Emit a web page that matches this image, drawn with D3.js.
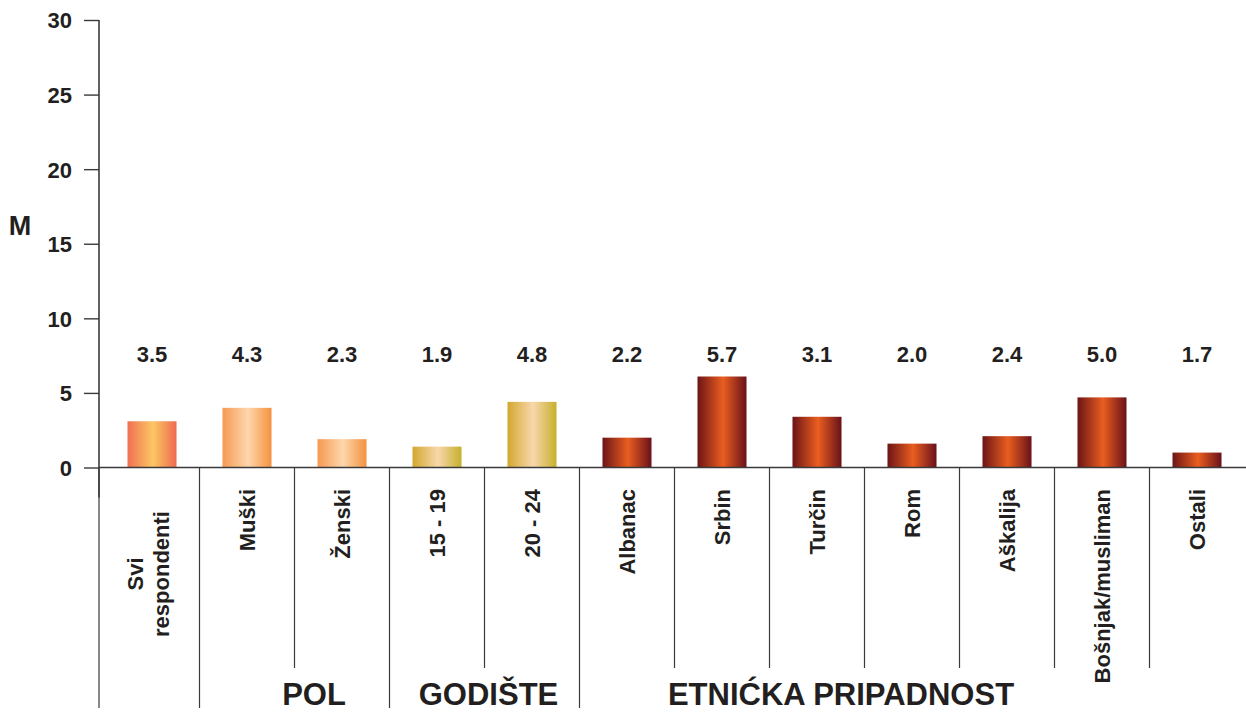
<!DOCTYPE html>
<html>
<head>
<meta charset="utf-8">
<script src="https://cdn.jsdelivr.net/npm/d3@7"></script>
<style>
  html, body { margin: 0; padding: 0; background: #ffffff; }
  svg { display: block; }
  text { font-family: "Liberation Sans", Arial, Helvetica, sans-serif; font-weight: bold; fill: #231f20; }
</style>
</head>
<body>
<svg id="chart" width="1246" height="713"></svg>
<script>
// ---- data ----
const categories = ["Svi\nrespondenti", "Muški", "Ženski", "15 - 19", "20 - 24", "Albanac", "Srbin", "Turčin", "Rom", "Aškalija", "Bošnjak/musliman", "Ostali"];
const values = [3.1, 4.0, 1.9, 1.4, 4.4, 2.0, 6.1, 3.4, 1.6, 2.1, 4.7, 1.0];
const valueLabels = ["3.5", "4.3", "2.3", "1.9", "4.8", "2.2", "5.7", "3.1", "2.0", "2.4", "5.0", "1.7"];
const colorGroup = [0, 1, 1, 2, 2, 3, 3, 3, 3, 3, 3, 3];
const groupNames = ["", "POL", "GODIŠTE", "ETNIĆKA PRIPADNOST"];
const groupStarts = [0, 1, 3, 5];
const yTicks = [0, 5, 10, 15, 20, 25, 30];
const yTitle = "M";
const gradientStops = [
  ["#f07052", "#fcc664", "#ef6a50"],
  ["#f59a52", "#fed6ac", "#f4923f"],
  ["#d2a82e", "#f8d7ac", "#c6b02c"],
  ["#6c1416", "#ea5e20", "#69111a"]
];

// ---- layout ----
const svg = d3.select("#chart");
const axisX = 99, baseY = 467.5, topY = 20;
const lineColor = "#3a3a3a";

const x = d3.scaleBand().domain(categories).range([104.5, 1244.5])
  .paddingInner(0.484).paddingOuter(0.242);
const step = x.step();
const y = d3.scaleLinear().domain([0, 30]).range([baseY, topY]);

// gradients
const defs = svg.append("defs");
gradientStops.forEach((stops, i) => {
  const g = defs.append("linearGradient").attr("id", "grad" + i)
    .attr("x1", "0%").attr("x2", "100%").attr("y1", "0%").attr("y2", "0%");
  g.append("stop").attr("offset", "0%").attr("stop-color", stops[0]);
  g.append("stop").attr("offset", "52%").attr("stop-color", stops[1]);
  g.append("stop").attr("offset", "100%").attr("stop-color", stops[2]);
});

// y axis
const yAxis = d3.axisLeft(y).tickValues(yTicks).tickSize(15).tickPadding(12).tickFormat(d3.format("d"));
const gy = svg.append("g").attr("transform", `translate(${axisX},0)`).call(yAxis);
gy.select(".domain").remove();
gy.selectAll(".tick line").attr("stroke", lineColor).attr("stroke-width", 1.4);
gy.selectAll(".tick text").style("font-size", "22px").style("font-family", '"Liberation Sans", Arial, sans-serif')
  .style("font-weight", "bold").attr("fill", "#231f20").attr("dy", "0.36em");

// y axis line (extends below baseline)
svg.append("line").attr("x1", axisX).attr("x2", axisX).attr("y1", topY).attr("y2", baseY + 30)
  .attr("stroke", lineColor).attr("stroke-width", 1.6);

// y title
svg.append("text").attr("x", 20).attr("y", 235).attr("text-anchor", "middle")
  .style("font-size", "27px").text(yTitle);

// bars
svg.append("g").selectAll("rect").data(categories).join("rect")
  .attr("x", d => x(d))
  .attr("y", (d, i) => y(values[i]))
  .attr("width", x.bandwidth())
  .attr("height", (d, i) => baseY - y(values[i]))
  .attr("fill", (d, i) => `url(#grad${colorGroup[i]})`);

// baseline
svg.append("line").attr("x1", axisX).attr("x2", 1246).attr("y1", baseY).attr("y2", baseY)
  .attr("stroke", lineColor).attr("stroke-width", 1.6);

// value labels
svg.append("g").selectAll("text").data(categories).join("text")
  .attr("x", d => x(d) + x.bandwidth() / 2)
  .attr("y", 362)
  .attr("text-anchor", "middle")
  .style("font-size", "22px")
  .text((d, i) => valueLabels[i]);

// separators
categories.forEach((c, i) => {
  const sx = i === 0 ? axisX : x(c) + x.bandwidth() / 2 - step / 2;
  const long = groupStarts.includes(i);
  svg.append("line").attr("x1", sx).attr("x2", sx).attr("y1", baseY).attr("y2", long ? 708 : 668)
    .attr("stroke", lineColor).attr("stroke-width", 1.2);
});

// category labels (rotated)
categories.forEach((c, i) => {
  const cx = x(c) + x.bandwidth() / 2;
  const lines = c.split("\n");
  if (lines.length === 1) {
    svg.append("text")
      .attr("transform", `translate(${cx + 7.5},489) rotate(-90)`)
      .attr("text-anchor", "end")
      .style("font-size", "22px")
      .text(c);
  } else {
    const lh = 26;
    lines.forEach((ln, k) => {
      const off = (k - (lines.length - 1) / 2) * lh;
      svg.append("text")
        .attr("transform", `translate(${cx + 4 + off},574) rotate(-90)`)
        .attr("text-anchor", "middle")
        .style("font-size", "22px")
        .text(ln);
    });
  }
});

// group labels
const groupOffsets = [0, 114.5, 99, 261.5];
groupNames.forEach((g, gi) => {
  if (!g) return;
  const startCat = categories[groupStarts[gi]];
  const sx = x(startCat) + x.bandwidth() / 2 - step / 2;
  svg.append("text")
    .attr("x", sx + groupOffsets[gi])
    .attr("y", 705)
    .attr("text-anchor", "middle")
    .style("font-size", "31px")
    .text(g);
});
</script>
</body>
</html>
